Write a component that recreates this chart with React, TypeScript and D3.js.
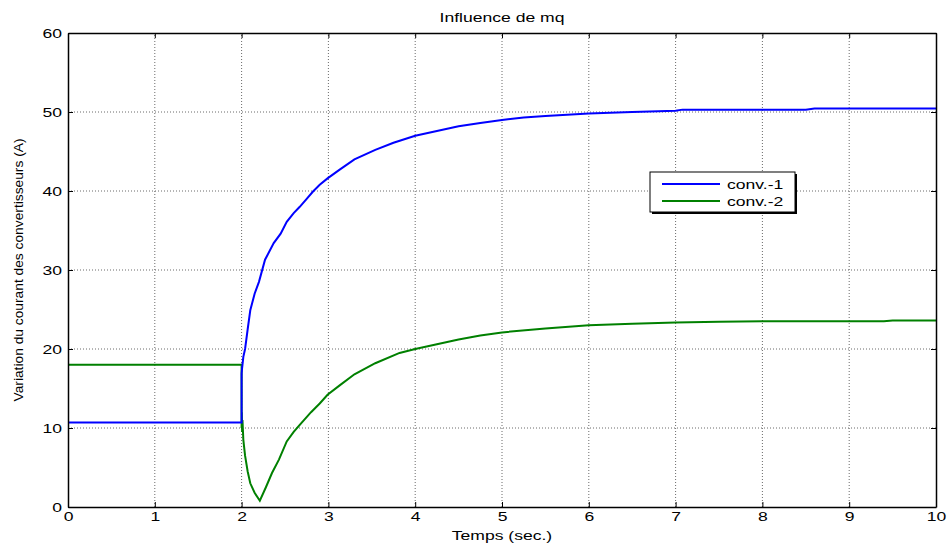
import { useRef, useEffect } from 'react';
import * as d3 from 'd3';

// conv.-1 (blue)
const conv1T = [0, 2.0, 2.0, 2.005, 2.01, 2.02, 2.04, 2.07, 2.1, 2.15, 2.2, 2.27, 2.37, 2.45, 2.52, 2.6, 2.67, 2.75, 2.82, 2.9, 2.99, 3.13, 3.3, 3.54, 3.75, 4.0, 4.25, 4.5, 4.75, 5.0, 5.25, 5.5, 6.0, 6.5, 7.0, 7.08, 8.5, 8.6, 10];
const conv1V = [10.7, 10.7, 16.9, 17.5, 18, 19, 20, 22.5, 24.9, 27, 28.5, 31.3, 33.4, 34.6, 36.1, 37.2, 38, 39, 39.9, 40.8, 41.6, 42.7, 44, 45.2, 46.1, 47, 47.6, 48.2, 48.6, 49.0, 49.3, 49.5, 49.8, 50.0, 50.15, 50.3, 50.3, 50.45, 50.45];

// conv.-2 (green)
const conv2T = [0, 2.0, 2.0, 2.003, 2.006, 2.01, 2.02, 2.04, 2.07, 2.1, 2.15, 2.21, 2.28, 2.35, 2.43, 2.52, 2.6, 2.67, 2.8, 2.9, 2.99, 3.13, 3.3, 3.54, 3.82, 4.0, 4.25, 4.5, 4.75, 5.0, 5.5, 6.0, 6.5, 7.0, 7.5, 8, 9, 9.4, 9.5, 10];
const conv2V = [18, 18, 10, 12, 9.5, 11, 8.5, 6.5, 4.5, 3, 1.8, 0.8, 2.5, 4.3, 6.0, 8.3, 9.5, 10.4, 12.0, 13.1, 14.2, 15.4, 16.8, 18.2, 19.5, 20.0, 20.6, 21.2, 21.7, 22.1, 22.6, 23.0, 23.2, 23.35, 23.45, 23.5, 23.5, 23.5, 23.6, 23.6];

const xTicks = [0, 1, 2, 3, 4, 5, 6, 7, 8, 9, 10];
const yTicks = [0, 10, 20, 30, 40, 50, 60];
const seriesNames = ['conv.-1', 'conv.-2'];
const seriesColors = ['#0000ff', '#008000'];

const App = () => {
  const svgRef = useRef<SVGSVGElement>(null);

  useEffect(() => {
    const width = 949;
    const height = 545;
    const margin = { top: 33, right: 13, bottom: 38, left: 68 };
    const font = 'Liberation Sans, Arial, sans-serif';

    const svg = d3.select(svgRef.current);
    svg.selectAll('*').remove();

    // the original image is stretched horizontally, so are its texts
    const stretch = (sel: any, k = 1.35) => {
      sel.each(function (this: SVGTextElement) {
        const w = this.getComputedTextLength();
        if (w > 0) {
          this.setAttribute('textLength', String(w * k));
          this.setAttribute('lengthAdjust', 'spacingAndGlyphs');
        }
      });
    };

    const x = d3.scaleLinear().domain([0, 10]).range([margin.left, width - margin.right]);
    const y = d3.scaleLinear().domain([0, 60]).range([height - margin.bottom, margin.top]);

    svg.append('rect').attr('width', width).attr('height', height).attr('fill', '#fff');

    // grid
    const grid = svg.append('g').attr('stroke', '#444').attr('stroke-width', 0.8).attr('stroke-dasharray', '1,2');
    xTicks.slice(1, -1).forEach(t => {
      grid.append('line').attr('x1', x(t)).attr('x2', x(t)).attr('y1', y(0)).attr('y2', y(60));
    });
    yTicks.slice(1, -1).forEach(t => {
      grid.append('line').attr('x1', x(0)).attr('x2', x(10)).attr('y1', y(t)).attr('y2', y(t));
    });

    // lines
    const line = d3.line<[number, number]>().x(d => x(d[0])).y(d => y(d[1]));
    const s1: [number, number][] = conv1T.map((t, i) => [t, conv1V[i]]);
    const s2: [number, number][] = conv2T.map((t, i) => [t, conv2V[i]]);
    svg.append('path').attr('d', line(s2)).attr('fill', 'none').attr('stroke', seriesColors[1]).attr('stroke-width', 2);
    svg.append('path').attr('d', line(s1)).attr('fill', 'none').attr('stroke', seriesColors[0]).attr('stroke-width', 2);

    // axes (ticks inside, on all sides)
    const axB = svg.append('g').attr('transform', `translate(0, ${y(0)})`)
      .call(d3.axisBottom(x).tickValues(xTicks).tickSize(-5).tickPadding(5).tickSizeOuter(0));
    const axT = svg.append('g').attr('transform', `translate(0, ${y(60)})`)
      .call(d3.axisTop(x).tickValues(xTicks).tickSize(-5).tickFormat(() => '').tickSizeOuter(0));
    const axL = svg.append('g').attr('transform', `translate(${x(0)}, 0)`)
      .call(d3.axisLeft(y).tickValues(yTicks).tickSize(-5).tickPadding(6).tickSizeOuter(0));
    const axR = svg.append('g').attr('transform', `translate(${x(10)}, 0)`)
      .call(d3.axisRight(y).tickValues(yTicks).tickSize(-5).tickFormat(() => '').tickSizeOuter(0));
    [axB, axT, axL, axR].forEach(a => {
      a.select('.domain').attr('stroke', '#000').attr('stroke-width', 1.5);
      a.selectAll('.tick line').attr('stroke', '#000');
      a.selectAll('text').attr('font-family', font).attr('font-size', 13).attr('fill', '#000');
    });
    stretch(axB.selectAll('text'));
    stretch(axL.selectAll('text'));

    // title and labels
    const title = svg.append('text').attr('x', (x(0) + x(10)) / 2).attr('y', 22).attr('text-anchor', 'middle')
      .attr('font-family', font).attr('font-size', 13).text('Influence de mq');
    stretch(title);
    const xLabel = svg.append('text').attr('x', (x(0) + x(10)) / 2).attr('y', 540).attr('text-anchor', 'middle')
      .attr('font-family', font).attr('font-size', 13).text('Temps (sec.)');
    stretch(xLabel);
    svg.append('text').attr('transform', `translate(23, ${(y(0) + y(60)) / 2}) rotate(-90)`)
      .attr('text-anchor', 'middle').attr('font-family', font).attr('font-size', 13)
      .attr('textLength', 263).attr('lengthAdjust', 'spacingAndGlyphs')
      .text('Variation du courant des convertisseurs (A)');

    // legend
    const lg = svg.append('g').attr('transform', 'translate(650, 172)');
    lg.append('rect').attr('x', 2).attr('y', 2).attr('width', 145).attr('height', 40).attr('fill', '#000');
    lg.append('rect').attr('width', 145).attr('height', 40).attr('fill', '#fff').attr('stroke', '#000').attr('stroke-width', 1);
    seriesNames.forEach((n, i) => {
      const yy = 12 + i * 17;
      lg.append('line').attr('x1', 12).attr('x2', 70).attr('y1', yy).attr('y2', yy)
        .attr('stroke', seriesColors[i]).attr('stroke-width', 2);
      const t = lg.append('text').attr('x', 77).attr('y', yy + 5).attr('font-family', font).attr('font-size', 13).text(n);
      stretch(t);
    });
  }, []);

  return (
    <div style={{ position: 'absolute', left: 0, top: 0 }}>
      <svg ref={svgRef} width={949} height={545} style={{ display: 'block' }}></svg>
    </div>
  );
};

export default App;
